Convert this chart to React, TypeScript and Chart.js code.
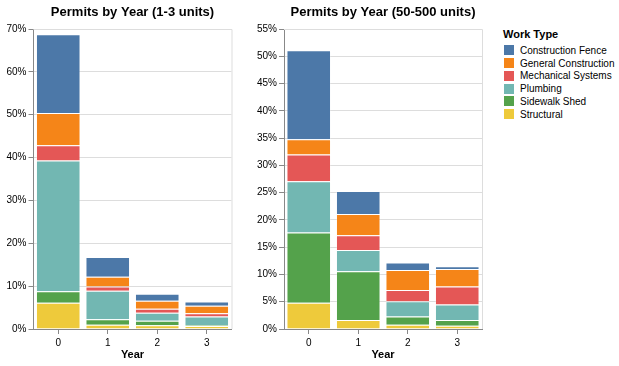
import React, { useEffect, useRef } from "react";
import { Chart, registerables } from "chart.js";

Chart.register(...registerables);

const years = ["0", "1", "2", "3"];
const workTypes = [
  "Construction Fence",
  "General Construction",
  "Mechanical Systems",
  "Plumbing",
  "Sidewalk Shed",
  "Structural",
];
const colors = ["#4c78a8", "#f58518", "#e45756", "#72b7b2", "#54a24b", "#eeca3b"];

// values in percent, per work type, for years 0..3
const small_fence = [18.4, 4.6, 1.6, 1.0];
const small_general = [7.5, 2.3, 1.9, 1.7];
const small_mech = [3.6, 1.0, 0.9, 0.8];
const small_plumbing = [30.5, 6.6, 1.9, 2.0];
const small_sidewalk = [2.7, 1.3, 1.0, 0.2];
const small_structural = [6.1, 1.0, 0.9, 0.7];

const large_fence = [16.3, 4.2, 1.4, 0.5];
const large_general = [2.8, 3.9, 3.65, 3.2];
const large_mech = [4.9, 2.7, 2.05, 3.3];
const large_plumbing = [9.4, 3.9, 2.8, 2.85];
const large_sidewalk = [12.9, 8.95, 1.5, 1.05];
const large_structural = [4.8, 1.65, 0.8, 0.6];

const smallSeries = [small_fence, small_general, small_mech, small_plumbing, small_sidewalk, small_structural];
const largeSeries = [large_fence, large_general, large_mech, large_plumbing, large_sidewalk, large_structural];

const FONT = "'Liberation Sans', Arial, Helvetica, sans-serif";

const frameBorder = {
  id: "frameBorder",
  beforeDatasetsDraw(chart: any) {
    const { ctx, chartArea } = chart;
    ctx.save();
    ctx.strokeStyle = "#dddddd";
    ctx.lineWidth = 1;
    ctx.beginPath();
    ctx.moveTo(chartArea.left, chartArea.top + 0.5);
    ctx.lineTo(chartArea.right + 0.5, chartArea.top + 0.5);
    ctx.lineTo(chartArea.right + 0.5, chartArea.bottom);
    ctx.stroke();
    ctx.restore();
  },
};

function makeConfig(title: string, series: number[][], max: number, step: number, yWidth: number, padRight: number) {
  const datasets = [];
  for (let i = series.length - 1; i >= 0; i--) {
    datasets.push({
      label: workTypes[i],
      data: series[i],
      backgroundColor: colors[i],
      borderColor: "rgba(255,255,255,0.25)",
      borderWidth: 1,
      barPercentage: 0.9,
      categoryPercentage: 1,
    });
  }
  return {
    type: "bar" as const,
    data: { labels: years, datasets },
    plugins: [frameBorder],
    options: {
      animation: false,
      responsive: false,
      maintainAspectRatio: false,
      layout: { padding: { top: 0, left: 0, right: padRight, bottom: 0 } },
      plugins: {
        legend: { display: false },
        tooltip: { enabled: false },
        title: {
          display: true,
          text: title,
          fullSize: false,
          color: "#000",
          font: { family: FONT, size: 13, weight: "bold" },
          padding: { top: 5, bottom: 8.4 },
        },
      },
      scales: {
        x: {
          stacked: true,
          offset: true,
          grid: {
            offset: false,
            drawOnChartArea: false,
            tickLength: 5,
            tickColor: "#888",
          },
          border: { color: "#888", width: 1 },
          ticks: {
            color: "#000",
            font: { family: FONT, size: 10 },
            padding: 3,
            maxRotation: 0,
          },
          title: {
            display: true,
            text: "Year",
            color: "#000",
            font: { family: FONT, size: 11, weight: "bold" },
            padding: { top: 0, bottom: 4 },
          },
          afterFit(scale: any) {
            scale.height = 37;
          },
        },
        y: {
          stacked: true,
          min: 0,
          max,
          grid: {
            color: "#ddd",
            tickLength: 5,
            tickColor: "#888",
          },
          border: { color: "#888", width: 1 },
          ticks: {
            stepSize: step,
            color: "#000",
            padding: 2,
            font: { family: FONT, size: 10 },
            callback: (v: any) => v + "%",
          },
          afterFit(scale: any) {
            scale.width = yWidth;
          },
        },
      },
    },
  };
}

function BarChart(props: { left: number; width: number; cfg: any }) {
  const ref = useRef<HTMLCanvasElement | null>(null);
  useEffect(() => {
    if (!ref.current) return;
    const chart = new Chart(ref.current, props.cfg);
    return () => chart.destroy();
  }, []);
  return (
    <canvas
      ref={ref}
      width={props.width}
      height={366}
      style={{ position: "absolute", left: props.left, top: 0, width: props.width, height: 366 }}
    />
  );
}

export default function App() {
  const leftCfg = makeConfig("Permits by Year (1-3 units)", smallSeries, 70, 10, 33.5, 8.5);
  const rightCfg = makeConfig("Permits by Year (50-500 units)", largeSeries, 55, 5, 39, 3);
  return (
    <div style={{ position: "fixed", left: 0, top: 0, width: 619, height: 366, background: "#fff", fontFamily: FONT }}>
      <BarChart left={0} width={240} cfg={leftCfg} />
      <BarChart left={245} width={240} cfg={rightCfg} />
      <div style={{ position: "absolute", left: 503, top: 27 }}>
        <div style={{ fontSize: 11, fontWeight: "bold", color: "#000", height: 14, lineHeight: "14px" }}>Work Type</div>
        {workTypes.map((w, i) => (
          <div key={w} style={{ display: "flex", alignItems: "center", height: 12.75, marginTop: i === 0 ? 3 : 0 }}>
            <div style={{ width: 10, height: 10, background: colors[i], marginLeft: 1, marginRight: 6 }} />
            <span style={{ fontSize: 10, color: "#000", whiteSpace: "nowrap" }}>{w}</span>
          </div>
        ))}
      </div>
    </div>
  );
}
